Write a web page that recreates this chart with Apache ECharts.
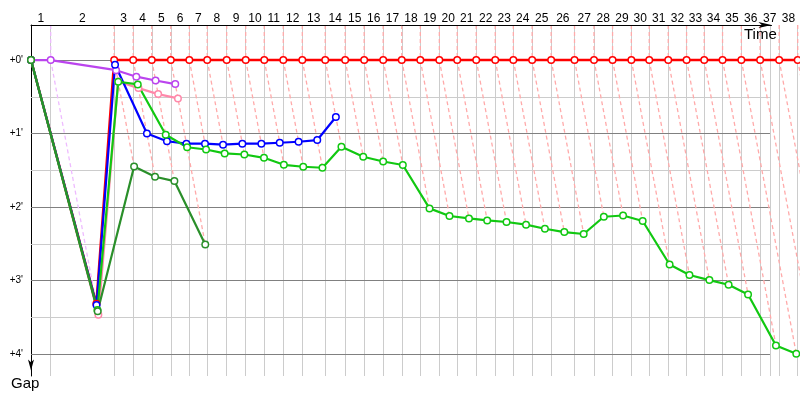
<!DOCTYPE html>
<html><head><meta charset="utf-8">
<script src="https://cdn.jsdelivr.net/npm/echarts@6/dist/echarts.min.js"></script>
<style>html,body{margin:0;padding:0;background:#fff}#c{width:800px;height:400px}</style>
</head><body><div id="c"></div>
<script>
// Lap numbers shown on the top (time) axis
const lapLabels = ['1','2','3','4','5','6','7','8','9','10','11','12','13','14','15','16','17','18','19','20',
  '21','22','23','24','25','26','27','28','29','30','31','32','33','34','35','36','37','38'];
// Leader's elapsed time (s) at the end of each lap, lap 0 = start
const leaderTimes = [0, 86, 363, 446, 527, 610, 691, 769, 854, 937, 1018, 1101, 1184, 1284, 1371, 1454, 1537,
  1618, 1699, 1782, 1860, 1943, 2026, 2105, 2187, 2270, 2372, 2457, 2538, 2620, 2698, 2781, 2861, 2938, 3018,
  3100, 3182, 3265, 3346];
// Gap to leader (s) at the end of each lap, lap 0 = start
const gapsRed = [0, 199, 0, 0, 0, 0, 0, 0, 0, 0, 0, 0, 0, 0, 0, 0, 0, 0, 0, 0, 0, 0, 0, 0, 0, 0, 0, 0, 0, 0,
  0, 0, 0, 0, 0, 0, 0, 0, 0];
const gapsPink = [0, 208, 17.5, 22.9, 27.8, 31.3];
const gapsPurple = [0, 0, 8.3, 13.6, 16.7, 19.6];
const gapsBlue = [0, 200, 3.8, 59.9, 66.3, 68.3, 68.3, 69.1, 68.3, 68.3, 67.5, 66.7, 65.3, 46.5];
const gapsGreen = [0, 204, 17.7, 19.9, 61.0, 71.2, 73.0, 76.2, 77.1, 79.8, 85.5, 87.1, 87.9, 70.8, 78.9, 82.8,
  85.7, 121.1, 127.3, 129.3, 130.9, 132.2, 134.4, 137.7, 140.4, 142.0, 127.9, 126.9, 131.4, 166.9, 175.5,
  179.6, 183.4, 191.3, 233.0, 239.8];
const gapsDarkGreen = [0, 205, 86.9, 95.3, 98.8, 150.5];
// Gap axis ticks (s)
const gapMajorTicks = [0, 60, 120, 180, 240];
const gapMinorTicks = [30, 90, 150, 210];

const X_MAX = 3356, Y_MIN = -28.6, Y_MAX = 257.9, GRID_END = 3225;

const drivers = [
  {name: 'A', color: '#ff0000', lapColor: '#ffaaaa', gaps: gapsRed, width: 2.4},
  {name: 'B', color: '#ff88aa', lapColor: '#ffaaaa', gaps: gapsPink, width: 2.2},
  {name: 'C', color: '#bb44ee', lapColor: '#eebbff', gaps: gapsPurple, width: 2.2},
  {name: 'D', color: '#0000ff', lapColor: '#ffaaaa', gaps: gapsBlue, width: 2.2},
  {name: 'E', color: '#11c811', lapColor: '#ffaaaa', gaps: gapsGreen, width: 2.2},
  {name: 'F', color: '#2a8f2a', lapColor: '#ffaaaa', gaps: gapsDarkGreen, width: 2.2}
];

const mids = lapLabels.map((_, i) => (leaderTimes[i] + leaderTimes[i + 1]) / 2);
function lapLabelFor(v) {
  let best = 0, bd = Infinity;
  mids.forEach((m, i) => { const d = Math.abs(m - v); if (d < bd) { bd = d; best = i; } });
  return lapLabels[best];
}

// Lap lines: from top down to the leader, then across to the last car of that lap
const lapLines = [];
for (let k = 1; k < leaderTimes.length; k++) {
  const t = leaderTimes[k];
  let maxGap = 0, leader = null;
  drivers.forEach(d => {
    if (d.gaps.length > k) {
      if (d.gaps[k] === 0 && !leader) leader = d;
      if (d.gaps[k] > maxGap) maxGap = d.gaps[k];
    }
  });
  if (maxGap === 0) maxGap = Y_MAX;
  lapLines.push({coords: [[t, Y_MIN], [t, 0], [t + maxGap, maxGap]],
    lineStyle: {color: leader ? leader.lapColor : '#ffaaaa'}});
}

const gridLines = [];
leaderTimes.slice(1).concat([GRID_END]).forEach(t => {
  gridLines.push({xAxis: t, lineStyle: {color: '#cccccc', width: 1, type: 'solid'}});
});
gapMinorTicks.forEach(v => {
  const ls = {color: '#cccccc', width: 1, type: 'solid'};
  gridLines.push([{coord: [0, v], lineStyle: ls}, {coord: [GRID_END, v], lineStyle: ls}]);
});
gapMajorTicks.forEach(v => {
  const ls = {color: '#808080', width: 1, type: 'solid'};
  gridLines.push([{coord: [0, v], lineStyle: ls}, {coord: [GRID_END, v], lineStyle: ls}]);
});

const series = [
  {type: 'line', data: [[0, 0]], symbol: 'none', lineStyle: {opacity: 0}, silent: true, z: 1,
   markLine: {silent: true, z: 1, symbol: ['none', 'none'], label: {show: false}, animation: false,
     emphasis: {disabled: true}, data: gridLines}},
  {type: 'lines', coordinateSystem: 'cartesian2d', xAxisIndex: 0, yAxisIndex: 0, polyline: true,
   silent: true, z: 3, lineStyle: {width: 1.3, type: [4, 3], opacity: 1}, data: lapLines}
];
drivers.forEach(d => {
  series.push({
    type: 'line', name: d.name, xAxisIndex: 0, yAxisIndex: 0, z: 10, clip: false, silent: true,
    data: d.gaps.map((g, i) => [leaderTimes[i] + g, g]),
    symbol: 'circle', symbolSize: 6.5,
    itemStyle: {color: '#ffffff', borderColor: d.color, borderWidth: 1.5},
    lineStyle: {color: d.color, width: d.width},
    emphasis: {disabled: true}
  });
});

const chart = echarts.init(document.getElementById('c'), null, {renderer: 'canvas'});
chart.setOption({
  animation: false,
  backgroundColor: '#ffffff',
  grid: [
    {left: 31, right: 0, top: 25, bottom: 24},
    {left: 31, right: 28.5, top: 25, bottom: 24}
  ],
  xAxis: [
    {type: 'value', gridIndex: 0, position: 'top', min: 0, max: X_MAX,
     axisLine: {show: false, onZero: false}, axisTick: {show: false}, splitLine: {show: false},
     axisLabel: {customValues: mids, formatter: v => lapLabelFor(v), color: '#000',
       fontFamily: 'Liberation Sans', fontSize: 12, margin: 0}},
    {type: 'value', gridIndex: 1, position: 'top', min: 0, max: 1, z: 5,
     axisLine: {show: true, onZero: false, symbol: ['none', 'arrow'], symbolSize: [4.5, 13],
       lineStyle: {color: '#000', width: 1}},
     axisTick: {show: false}, axisLabel: {show: false}, splitLine: {show: false}}
  ],
  yAxis: [
    {type: 'value', gridIndex: 0, inverse: true, min: Y_MIN, max: Y_MAX,
     axisLine: {show: true, onZero: false, symbol: ['arrow', 'none'], symbolSize: [4.5, 11],
       symbolOffset: [5.5, 0], lineStyle: {color: '#000', width: 1}},
     axisTick: {show: false}, splitLine: {show: false},
     axisLabel: {customValues: gapMajorTicks, formatter: v => '+' + Math.round(v / 60) + "'",
       color: '#000', fontFamily: 'Liberation Sans', fontSize: 10, margin: 8}},
    {type: 'value', gridIndex: 1, show: false, min: 0, max: 1}
  ],
  graphic: [
    {type: 'text', x: 744, y: 35, z: 100, silent: true,
     style: {text: 'Time', fill: '#000', font: '15px "Liberation Sans"', align: 'left', verticalAlign: 'middle'}},
    {type: 'text', x: 11, y: 384, z: 100, silent: true,
     style: {text: 'Gap', fill: '#000', font: '15px "Liberation Sans"', align: 'left', verticalAlign: 'middle'}}
  ],
  series: series
});
</script>
</body></html>
